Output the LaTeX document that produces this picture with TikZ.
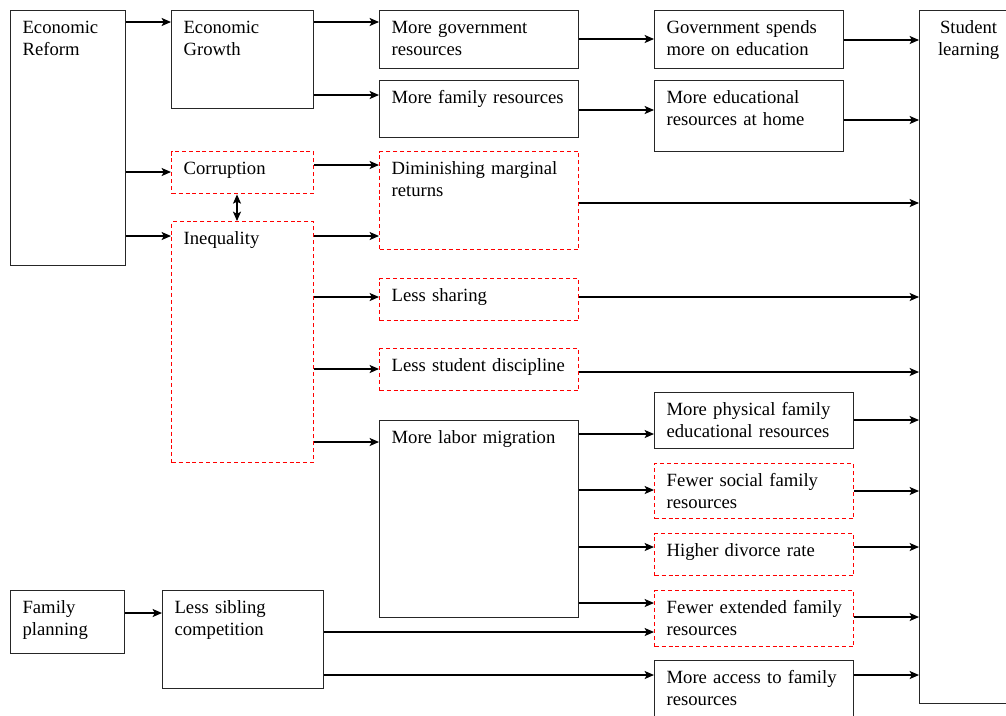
\documentclass[tikz,border=0pt]{standalone}
\usepackage{fontspec}
\setmainfont{Liberation Serif}
\usetikzlibrary{arrows.meta}
\newlength{\pxu}
\setlength{\pxu}{0.75pt}
\tikzset{
  box/.style={draw=black!85, line width=0.85pt, anchor=north west, align=left,
              inner xsep=12\pxu, inner ysep=9\pxu, text height=14\pxu,
              font=\fontsize{14}{16.5}\selectfont},
  dbox/.style={box, draw=red, line width=1pt, dash pattern=on 3pt off 2.2pt},
  tall/.style={text depth=#1\pxu},
  arr/.style={-{Stealth[length=7pt,width=6pt,inset=1.5pt]}, line width=0.95pt},
  biarr/.style={arr, {Stealth[length=7pt,width=6pt,inset=1.5pt]}-{Stealth[length=7pt,width=6pt,inset=1.5pt]}},
}
\begin{document}
\begin{tikzpicture}[x=0.75pt, y=-0.75pt]
\useasboundingbox (0,0) rectangle (1006,715);

% first column
\node[box, text width=91\pxu, tall=223] (reform) at (10,10) {Economic\\Reform};
\node[box, text width=90\pxu, tall=31] (planning) at (10,590) {Family\\planning};

% second column
\node[box, text width=118\pxu, tall=66] (growth) at (171,10) {Economic\\Growth};
\node[dbox, text width=118\pxu, tall=10] (corrupt) at (171,151) {Corruption};
\node[dbox, text width=118\pxu, tall=209] (inequal) at (171,221) {Inequality};
\node[box, text width=137\pxu, tall=66] (sibling) at (162,590) {Less sibling\\competition};

% third column
\node[box, text width=175\pxu, tall=26] (govres) at (379,10) {More government\\resources};
\node[box, text width=175\pxu, tall=25] (famres) at (379,80) {More family resources};
\node[dbox, text width=175\pxu, tall=66] (dimret) at (379,151) {Diminishing marginal\\returns};
\node[dbox, text width=175\pxu, tall=10] (sharing) at (379,278) {Less sharing};
\node[dbox, text width=175\pxu, tall=10] (discip) at (379,348) {Less student discipline};
\node[box, text width=175\pxu, tall=165] (migr) at (379,420) {More labor migration};

% fourth column
\node[box, text width=165\pxu, tall=26] (govspend) at (654,10) {Government spends\\more on education};
\node[box, text width=165\pxu, tall=39] (homeres) at (654,80) {More educational\\resources at home};
\node[box, text width=175\pxu, tall=24] (physres) at (654,392) {More physical family\\educational resources};
\node[dbox, text width=175\pxu, tall=23] (socres) at (654,463) {Fewer social family\\resources};
\node[dbox, text width=175\pxu, tall=10] (divorce) at (654,533) {Higher divorce rate};
\node[dbox, text width=175\pxu, tall=24] (extres) at (654,590) {\mbox{Fewer extended family}\\resources};
\node[box, text width=175\pxu, tall=26] (access) at (654,660) {More access to family\\resources};

% outcome
\node[box, align=center, text width=74\pxu, tall=661] (learning) at (919,10) {Student\\learning};

% horizontal links
\foreach \a/\b/\y in {reform/growth/22, reform/corrupt/172, reform/inequal/236,
    growth/govres/22, growth/famres/95, govres/govspend/39, famres/homeres/110,
    govspend/learning/40, homeres/learning/120,
    corrupt/dimret/165, inequal/dimret/236, inequal/sharing/297,
    inequal/discip/369, inequal/migr/442,
    dimret/learning/203, sharing/learning/297, discip/learning/372,
    migr/physres/434, migr/socres/490, migr/divorce/547, migr/extres/603,
    physres/learning/420, socres/learning/491, divorce/learning/547,
    extres/learning/617, planning/sibling/613, sibling/extres/632,
    sibling/access/675, access/learning/675}
  \draw[arr] (\a.east |- 0,\y) -- (\b.west |- 0,\y);

\draw[biarr] (corrupt.south -| 237,0) -- (inequal.north -| 237,0);

\end{tikzpicture}
\end{document}
